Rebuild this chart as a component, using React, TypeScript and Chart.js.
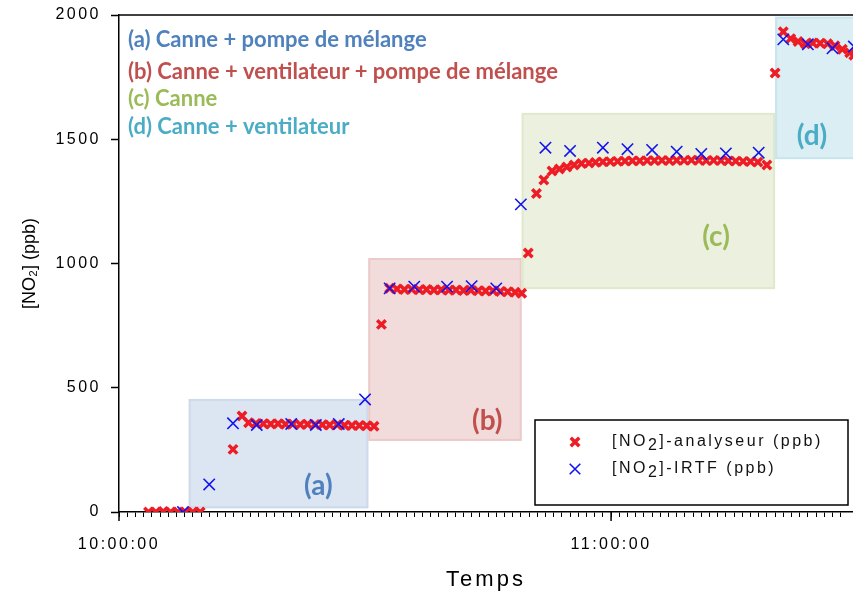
import React, { useEffect, useRef } from 'react';
import { Chart, registerables } from 'chart.js';

Chart.register(...registerables);

// ---- data (time in minutes after 10:00:00, values in ppb) ----
const analyseurTimes = [
  3.6, 4.5, 5.4, 6.3, 7.2, 8.1, 9.0, 9.9,
  13.9, 15.0, 15.8, 16.7, 17.6, 18.5, 19.4, 20.3, 21.2, 22.1, 23.0, 23.9, 24.8, 25.7, 26.6, 27.5, 28.4, 29.3, 30.2, 31.1,
  32.0, 33.0, 33.9, 34.8, 35.7, 36.6, 37.5, 38.4, 39.3, 40.2, 41.1, 42.0, 42.9, 43.8, 44.7, 45.6, 46.5, 47.4, 48.3, 49.1,
  49.9, 50.9, 51.8, 52.8, 53.7, 54.6, 55.5, 56.4, 57.3, 58.1, 59.0, 59.9, 60.8, 61.7, 62.6, 63.5, 64.4, 65.3, 66.2, 67.1,
  68.0, 68.9, 69.8, 70.7, 71.6, 72.5, 73.4, 74.3, 75.2, 76.1, 77.0, 77.9, 79.0,
  80.0, 81.0, 81.9, 82.8, 83.7, 84.6, 85.5, 86.4, 87.3, 88.2, 89.1, 89.6,
];
const analyseurValues = [
  0, 0, 2, 0, 0, 0, 0, 0,
  252, 386, 359, 356, 355, 354, 355, 353, 354, 352, 353, 352, 351, 350, 351, 349, 348, 348, 347, 345,
  755, 900, 897, 895, 896, 894, 895, 893, 894, 892, 893, 891, 892, 890, 889, 890, 887, 886, 884, 880,
  1042, 1282, 1336, 1372, 1380, 1388, 1396, 1402, 1404, 1407, 1409, 1410, 1411, 1412, 1413, 1413, 1414, 1414, 1415, 1414,
  1415, 1415, 1416, 1415, 1414, 1415, 1414, 1413, 1412, 1411, 1410, 1408, 1396,
  1767, 1933, 1905, 1893, 1884, 1887, 1886, 1884, 1876, 1862, 1848, 1838,
];
const irtfTimes = [
  7.8, 11.0, 13.9, 16.8, 21.0, 24.0, 26.8, 30.0,
  33.0, 36.0, 40.0, 43.0, 46.0,
  49.0, 52.0, 55.0, 59.0, 62.0, 65.0, 68.0, 71.0, 74.0, 78.0,
  81.0, 84.0, 87.0, 89.6,
];
const irtfValues = [
  0, 111, 357, 350, 354, 350, 354, 453,
  900, 907, 907, 909, 900,
  1238, 1466, 1453, 1466, 1460, 1457, 1450, 1441, 1443, 1446,
  1902, 1882, 1866, 1873,
];

const yTickValues = [0, 500, 1000, 1500, 2000];
const xLabelMinutes = [0, 60];
const xLabelTexts = ['10:00:00', '11:00:00'];

const seriesNames = ['[NO2]-analyseur (ppb)', '[NO2]-IRTF (ppb)'];
const yTitle = '[NO₂] (ppb)';
const xTitle = 'Temps';

const regionTags = ['(a)', '(b)', '(c)', '(d)'];
const regionDescriptions = [
  '(a) Canne + pompe de mélange',
  '(b) Canne + ventilateur + pompe de mélange',
  '(c) Canne',
  '(d) Canne + ventilateur',
];
const regionStart = [8.5, 30.4, 49.1, 80.0];
const regionEnd = [30.4, 49.1, 80.0, 96];
const regionLow = [15, 286, 897, 1420];
const regionHigh = [455, 1022, 1606, 1993];
const regionTagTime = [24.3, 44.9, 72.8, 84.5];
const regionTagValue = [105, 366, 1107, 1515];

// ---- styles ----
const RED = '#EE1C25';
const BLUE = '#1414F0';
const regionText = ['#4F81BD', '#C0504D', '#9BBB59', '#4BACC6'];
const regionFill = ['#DCE6F2', '#F2DCDB', '#EBF1DE', '#DAEEF3'];
const regionStroke = ['#CCDAEC', '#EBCBCA', '#DFE9CC', '#C8E5EE'];
const SPACING = '2.5px';

function cross(ctx: CanvasRenderingContext2D, x: number, y: number, r: number, w: number, c: string) {
  const d = r * Math.SQRT1_2;
  ctx.save();
  ctx.strokeStyle = c;
  ctx.lineWidth = w;
  ctx.beginPath();
  ctx.moveTo(x - d, y - d);
  ctx.lineTo(x + d, y + d);
  ctx.moveTo(x + d, y - d);
  ctx.lineTo(x - d, y + d);
  ctx.stroke();
  ctx.restore();
}

const spacingPlugin = {
  id: 'spacing',
  beforeDraw(chart: any) {
    (chart.ctx as any).letterSpacing = SPACING;
  },
};

const regionsPlugin = {
  id: 'regions',
  beforeDatasetsDraw(chart: any) {
    const { ctx, chartArea, scales } = chart;
    const xs = scales.x;
    const ys = scales.y;
    ctx.save();
    (ctx as any).letterSpacing = '0px';
    ctx.beginPath();
    ctx.rect(chartArea.left, chartArea.top, chartArea.right - chartArea.left, chartArea.bottom - chartArea.top);
    ctx.clip();
    regionStart.forEach((s, i) => {
      const x1 = xs.getPixelForValue(s);
      const x2 = xs.getPixelForValue(regionEnd[i]);
      const y1 = ys.getPixelForValue(regionHigh[i]);
      const y2 = ys.getPixelForValue(regionLow[i]);
      ctx.fillStyle = regionFill[i];
      ctx.fillRect(x1, y1, x2 - x1, y2 - y1);
      ctx.strokeStyle = regionStroke[i];
      ctx.lineWidth = 2;
      ctx.strokeRect(x1 + 1, y1 + 1, x2 - x1 - 2, y2 - y1 - 2);
    });
    ctx.font = 'bold 28px Lato';
    ctx.textAlign = 'center';
    ctx.textBaseline = 'middle';
    regionTags.forEach((t, i) => {
      ctx.fillStyle = regionText[i];
      ctx.fillText(t, xs.getPixelForValue(regionTagTime[i]), ys.getPixelForValue(regionTagValue[i]));
    });
    ctx.font = 'bold 22px Lato';
    ctx.textAlign = 'left';
    const offsets = [25, 57, 84, 112];
    regionDescriptions.forEach((t, i) => {
      ctx.fillStyle = regionText[i];
      ctx.fillText(t, chartArea.left + 9, chartArea.top + offsets[i]);
    });
    ctx.restore();
  },
  afterDraw(chart: any) {
    const { ctx, chartArea, scales } = chart;
    const xs = scales.x;
    ctx.save();
    // top border
    ctx.strokeStyle = '#000';
    ctx.lineWidth = 1.5;
    ctx.beginPath();
    ctx.moveTo(chartArea.left, chartArea.top);
    ctx.lineTo(chartArea.right, chartArea.top);
    ctx.stroke();
    // major x ticks
    xLabelMinutes.forEach((m) => {
      const px = xs.getPixelForValue(m);
      ctx.beginPath();
      ctx.moveTo(px, chartArea.bottom);
      ctx.lineTo(px, chartArea.bottom + 9);
      ctx.stroke();
    });
    // axis titles
    (ctx as any).letterSpacing = '0px';
    ctx.fillStyle = '#000';
    ctx.textAlign = 'center';
    ctx.textBaseline = 'middle';
    ctx.font = '18px "Liberation Sans"';
    ctx.save();
    ctx.translate(30, (chartArea.top + chartArea.bottom) / 2);
    ctx.rotate(-Math.PI / 2);
    ctx.fillText(yTitle, 0, 0);
    ctx.restore();
    (ctx as any).letterSpacing = '3px';
    ctx.font = '22px "Liberation Sans"';
    ctx.fillText(xTitle, (chartArea.left + chartArea.right) / 2, 580);
    // legend box
    const lx = chartArea.right - 318;
    const ly = chartArea.bottom - 92;
    const lw = 313;
    const lh = 85;
    ctx.fillStyle = '#fff';
    ctx.fillRect(lx, ly, lw, lh);
    ctx.lineWidth = 1.5;
    ctx.strokeStyle = '#000';
    ctx.strokeRect(lx, ly, lw, lh);
    const rows = [ly + 22, ly + 49];
    cross(ctx, lx + 40, rows[0], 6, 3.5, RED);
    cross(ctx, lx + 40, rows[1], 7.5, 1.6, BLUE);
    ctx.fillStyle = '#111';
    ctx.font = '16px "Liberation Sans"';
    (ctx as any).letterSpacing = SPACING;
    ctx.textAlign = 'left';
    seriesNames.forEach((name, i) => {
      const pre = name.slice(0, 3);
      const post = name.slice(4);
      let x = lx + 77;
      ctx.fillText(pre, x, rows[i]);
      x += ctx.measureText(pre).width;
      ctx.fillText('2', x, rows[i] + 4);
      x += ctx.measureText('2').width;
      ctx.fillText(post, x, rows[i]);
    });
    ctx.restore();
  },
};

export default function App() {
  const ref = useRef<HTMLCanvasElement | null>(null);
  useEffect(() => {
    if (!ref.current) return;
    const chart = new Chart(ref.current, {
      type: 'scatter',
      data: {
        datasets: [
          {
            label: seriesNames[1],
            data: irtfTimes.map((t, i) => ({ x: t, y: irtfValues[i] })),
            pointStyle: 'crossRot',
            pointRadius: 8,
            pointBorderWidth: 1.6,
            borderColor: BLUE,
            backgroundColor: BLUE,
            showLine: false,
            order: 0,
          },
          {
            label: seriesNames[0],
            data: analyseurTimes.map((t, i) => ({ x: t, y: analyseurValues[i] })),
            pointStyle: 'crossRot',
            pointRadius: 6,
            pointBorderWidth: 3.5,
            borderColor: RED,
            backgroundColor: RED,
            showLine: false,
            order: 1,
          },
        ],
      },
      options: {
        animation: false,
        responsive: false,
        events: [],
        layout: { autoPadding: false, padding: { top: 15, right: 0, left: 0, bottom: 0 } },
        plugins: { legend: { display: false }, tooltip: { enabled: false } },
        scales: {
          x: {
            type: 'linear',
            min: 0,
            max: 89.5,
            afterFit: (s: any) => { s.height = 82; s.paddingRight = 0; s.paddingLeft = 0; },
            border: { display: true, color: '#000', width: 1.5 },
            grid: { display: true, drawOnChartArea: false, drawTicks: true, tickLength: 5, tickColor: '#000', tickWidth: 1 },
            ticks: {
              stepSize: 1,
              autoSkip: false,
              maxTicksLimit: 1000,
              maxRotation: 0,
              padding: 18,
              color: '#000',
              font: { family: '"Liberation Sans"', size: 16 },
              callback: (v: any) => {
                const i = xLabelMinutes.indexOf(Number(v));
                return i >= 0 ? xLabelTexts[i] : '';
              },
            },
          },
          y: {
            min: 0,
            max: 2000,
            afterFit: (s: any) => { s.width = 119; s.paddingTop = 0; s.paddingBottom = 0; },
            afterBuildTicks: (s: any) => { s.ticks = yTickValues.map((v) => ({ value: v })); },
            border: { display: true, color: '#000', width: 1.5 },
            grid: { display: true, drawOnChartArea: false, drawTicks: true, tickLength: 8, tickColor: '#000', tickWidth: 1.5 },
            ticks: {
              padding: 10,
              color: '#000',
              font: { family: '"Liberation Sans"', size: 16 },
              callback: (v: any) => String(v),
            },
          },
        },
      },
      plugins: [spacingPlugin, regionsPlugin],
    } as any);
    return () => chart.destroy();
  }, []);
  return (
    <canvas
      ref={ref}
      width={853}
      height={594}
      style={{ position: 'absolute', left: 0, top: 0, width: 853, height: 594, display: 'block' }}
    />
  );
}
